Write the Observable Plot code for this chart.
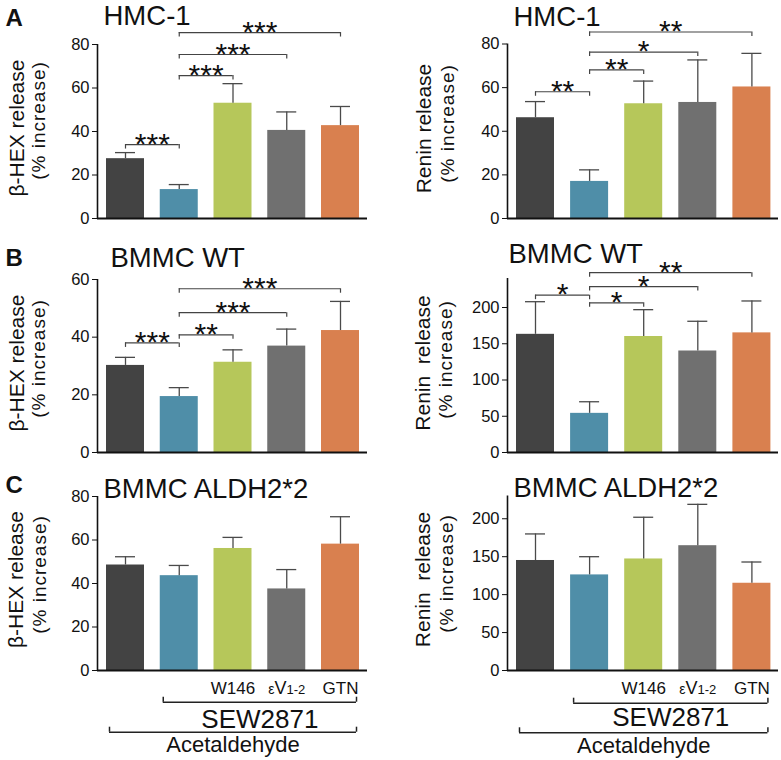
<!DOCTYPE html>
<html><head><meta charset="utf-8">
<script src="https://cdn.jsdelivr.net/npm/d3@7"></script>
<script src="https://cdn.jsdelivr.net/npm/@observablehq/plot@0.6"></script>
<style>
html,body{margin:0;padding:0;background:#fff;}
#fig{position:relative;width:781px;height:760px;overflow:hidden;background:#fff;}
.panel{position:absolute;}
.panel svg{overflow:visible;display:block;}
</style></head><body><div id="fig"></div>
<script>
// ---------- data ----------
const treatments = ["Acetaldehyde", "Acetaldehyde + SEW2871", "+ SEW2871 + W146", "+ SEW2871 + εV1-2", "+ SEW2871 + GTN"];
const xTickLabels = ["", "", "W146", "εV1-2", "GTN"];
const groupSpans = [
  {label: "SEW2871", from: 1, to: 4, row: 0},
  {label: "Acetaldehyde", from: 0, to: 4, row: 1}
];

const hexHMC      = [27.5, 13.3, 53.0, 40.5, 42.7];
const hexHMCsem   = [2.8, 2.3, 9.0, 8.5, 8.8];
const reninHMC    = [46.2, 17.0, 52.6, 53.2, 60.3];
const reninHMCsem = [7.4, 5.3, 10.4, 19.5, 15.4];
const hexWT       = [30.2, 19.4, 31.3, 36.9, 42.3];
const hexWTsem    = [2.8, 3.1, 4.3, 5.9, 10.1];
const reninWT     = [163, 54, 160, 140, 165];
const reninWTsem  = [45, 16, 37, 41, 44];
const hexALDH     = [48.5, 43.6, 56.1, 37.5, 58.1];
const hexALDHsem  = [3.8, 4.7, 5.1, 8.9, 12.6];
const reninALDH   = [145, 126, 147, 164.5, 115];
const reninALDHsem= [35, 24, 55, 54.5, 28];

// significance brackets: [bar a, bar b, bracket level (value units), label]
const sigHexHMC   = [[0,1,34,"***"],[1,2,65.7,"***"],[1,3,75.4,"***"],[1,4,85.5,"***"]];
const sigReninHMC = [[0,1,58.1,"**"],[1,2,68.1,"**"],[1,3,76.3,"*"],[1,4,85.5,"**"]];
const sigHexWT    = [[0,1,38.0,"***"],[1,2,40.8,"**"],[1,3,48.5,"***"],[1,4,56.8,"***"]];
const sigReninWT  = [[0,1,217,"*"],[1,2,206.4,"*"],[1,3,228.8,"*"],[1,4,248,"**"]];

const ticks80  = [0, 20, 40, 60, 80];
const ticks60  = [0, 20, 40, 60];
const ticks200 = [0, 50, 100, 150, 200];

// ---------- style ----------
const barColors = ["#434343", "#4f8ea8", "#b6c75a", "#707070", "#d9804f"];
const FONT = "'Liberation Sans', Arial, Helvetica, sans-serif";

const panels = [
  {left:0, top:0, w:390, h:240, mt:44, mb:22, ml:97, mr:23, c0:125, step:53.75, ymax:80, ticks:ticks80,
   values:hexHMC, sem:hexHMCsem, sig:sigHexHMC, letter:"A", letterPos:[5,25], title:"HMC-1", titlePos:[103,24],
   ylab:"β-HEX release", ylabPos:[17,127.5], ylab2Pos:[38,120]},
  {left:390, top:0, w:391, h:240, mt:43.5, mb:22, ml:117, mr:3, c0:145, step:54.1, ymax:80, ticks:ticks80,
   values:reninHMC, sem:reninHMCsem, sig:sigReninHMC, title:"HMC-1", titlePos:[123,25],
   ylab:"Renin release", ylabPos:[34,128], ylab2Pos:[57,123]},
  {left:0, top:240, w:390, h:232, mt:39, mb:20, ml:97, mr:23, c0:125, step:53.75, ymax:60, ticks:ticks60,
   values:hexWT, sem:hexWTsem, sig:sigHexWT, letter:"B", letterPos:[5,25], title:"BMMC WT", titlePos:[110,26.5],
   ylab:"β-HEX release", ylabPos:[17,122.5], ylab2Pos:[38,118]},
  {left:390, top:240, w:391, h:232, mt:38, mb:20, ml:117, mr:3, c0:145, step:54.1, ymax:240, ticks:ticks200,
   values:reninWT, sem:reninWTsem, sig:sigReninWT, title:"BMMC WT", titlePos:[118,22],
   ylab:"Renin  release", ylabPos:[33,122.5], ylab2Pos:[55,119]},
  {left:0, top:472, w:390, h:288, mt:24, mb:90, ml:97, mr:23, c0:125, step:53.75, ymax:80, ticks:ticks80,
   values:hexALDH, sem:hexALDHsem, sig:[], letter:"C", letterPos:[5,20], title:"BMMC ALDH2*2", titlePos:[103,25],
   ylab:"β-HEX release", ylabPos:[16,107], ylab2Pos:[39,102], bottom:true, rowDy:[[31.7,57],[61.7,81.7]]},
  {left:390, top:472, w:391, h:288, mt:23.5, mb:90, ml:117, mr:3, c0:145, step:54.1, ymax:230, ticks:ticks200,
   values:reninALDH, sem:reninALDHsem, sig:[], title:"BMMC ALDH2*2", titlePos:[123,24],
   ylab:"Renin  release", ylabPos:[33,107], ylab2Pos:[56,101], bottom:true, rowDy:[[32.7,55],[62.3,82]]}
];

function frameText(p, str, pos, opts) {
  return Plot.text([str], Object.assign({
    frameAnchor: "top-left", dx: pos[0] - p.ml, dy: pos[1] - p.mt,
    text: d => d, fill: "#111", fontFamily: FONT
  }, opts));
}

function renderPanel(p) {
  const plotH = p.h - p.mt - p.mb;
  const k = p.ymax / plotH;                 // value units per pixel
  const xmin = (p.ml - p.c0) / p.step;
  const xmax = (p.w - p.mr - p.c0) / p.step;
  const hw = 19 / p.step, cap = 10 / p.step, pad = 16 / p.step;
  const bars = treatments.map((t, i) => ({i, t, v: p.values[i], e: p.values[i] + p.sem[i], color: barColors[i]}));
  const sig = p.sig.map(([a, b, level, label]) => ({a, b, level, label}));
  const tk = 4.5 * k;

  const marks = [
    Plot.rect(bars, {x1: d => d.i - hw, x2: d => d.i + hw, y1: 0, y2: "v", fill: "color"}),
    Plot.ruleX(bars, {x: "i", y1: "v", y2: "e", stroke: "#4a4a4a", strokeWidth: 1.3}),
    Plot.ruleY(bars, {x1: d => d.i - cap, x2: d => d.i + cap, y: "e", stroke: "#4a4a4a", strokeWidth: 1.3}),
    Plot.ruleY([0], {stroke: "#111", strokeWidth: 2.2}),
    Plot.ruleX([xmin], {y1: 0, y2: p.ymax, stroke: "#111", strokeWidth: 1.6}),
    Plot.ruleY(sig, {x1: "a", x2: "b", y: "level", stroke: "#444", strokeWidth: 1.2}),
    Plot.ruleX(sig, {x: "a", y1: "level", y2: d => d.level - tk, stroke: "#444", strokeWidth: 1.2}),
    Plot.ruleX(sig, {x: "b", y1: "level", y2: d => d.level - tk, stroke: "#444", strokeWidth: 1.2}),
    Plot.text(sig, {x: d => (d.a + d.b) / 2, y: "level", text: "label", lineAnchor: "bottom", dy: 9,
      fontSize: 30, fill: "#111", fontFamily: FONT}),
    frameText(p, p.title, p.titlePos, {textAnchor: "start", lineAnchor: "bottom", fontSize: 27.5}),
    frameText(p, p.ylab, p.ylabPos, {rotate: -90, textAnchor: "middle", lineAnchor: "middle", fontSize: 21}),
    frameText(p, "(% increase)", p.ylab2Pos, {rotate: -90, textAnchor: "middle", lineAnchor: "middle", fontSize: 19})
  ];
  if (p.letter) marks.push(frameText(p, p.letter, p.letterPos, {textAnchor: "start", lineAnchor: "bottom", fontSize: 24, fontWeight: "bold"}));
  if (p.bottom) {
    const lab = bars.filter(d => xTickLabels[d.i]);
    marks.push(Plot.text(lab, {x: "i", y: 0, text: d => xTickLabels[d.i], lineAnchor: "bottom", dy: 23,
      fontSize: 17, fill: "#111", fontFamily: FONT}));
    for (const g of groupSpans) {
      const [lineDy, textDy] = p.rowDy[g.row];
      const gs = [{x1: g.from - pad, x2: g.to + pad, label: g.label}];
      marks.push(
        Plot.ruleY(gs, {x1: "x1", x2: "x2", y: 0, dy: lineDy, stroke: "#222", strokeWidth: 1.5}),
        Plot.ruleX(gs, {x: "x1", y1: 0, y2: 5 * k, dy: lineDy, stroke: "#222", strokeWidth: 1.5}),
        Plot.ruleX(gs, {x: "x2", y1: 0, y2: 5 * k, dy: lineDy, stroke: "#222", strokeWidth: 1.5}),
        Plot.text(gs, {x: d => (d.x1 + d.x2) / 2, y: 0, text: "label", dy: textDy, lineAnchor: "bottom",
          fontSize: g.row === 0 ? 26 : 22, fill: "#111", fontFamily: FONT})
      );
    }
  }

  const svg = Plot.plot({
    width: p.w, height: p.h,
    marginTop: p.mt, marginBottom: p.mb, marginLeft: p.ml, marginRight: p.mr,
    style: {fontFamily: FONT, fontSize: "16.5px", color: "#111", background: "transparent", overflow: "visible"},
    x: {type: "linear", domain: [xmin, xmax], axis: null},
    y: {domain: [0, p.ymax], ticks: p.ticks, tickSize: 5, tickPadding: 3, label: null, tickFormat: d3.format("d")},
    color: {type: "identity"},
    marks
  });

  // post-processing of text details
  d3.select(svg).selectAll("text").each(function () {
    const t = this.textContent;
    if (t === "(% increase)") this.style.letterSpacing = "1px";
    if (t.includes("  ")) this.style.whiteSpace = "pre";
    if (t === "εV1-2") {
      const s = d3.select(this);
      s.text("");
      s.append("tspan").attr("font-size", 14).text("ε");
      s.append("tspan").attr("font-size", 18).text("V");
      s.append("tspan").attr("font-size", 13).text("1-2");
    }
  });

  const div = document.createElement("div");
  div.className = "panel";
  div.style.left = p.left + "px";
  div.style.top = p.top + "px";
  div.appendChild(svg);
  document.getElementById("fig").appendChild(div);
}

panels.forEach(renderPanel);
</script>
</body></html>
